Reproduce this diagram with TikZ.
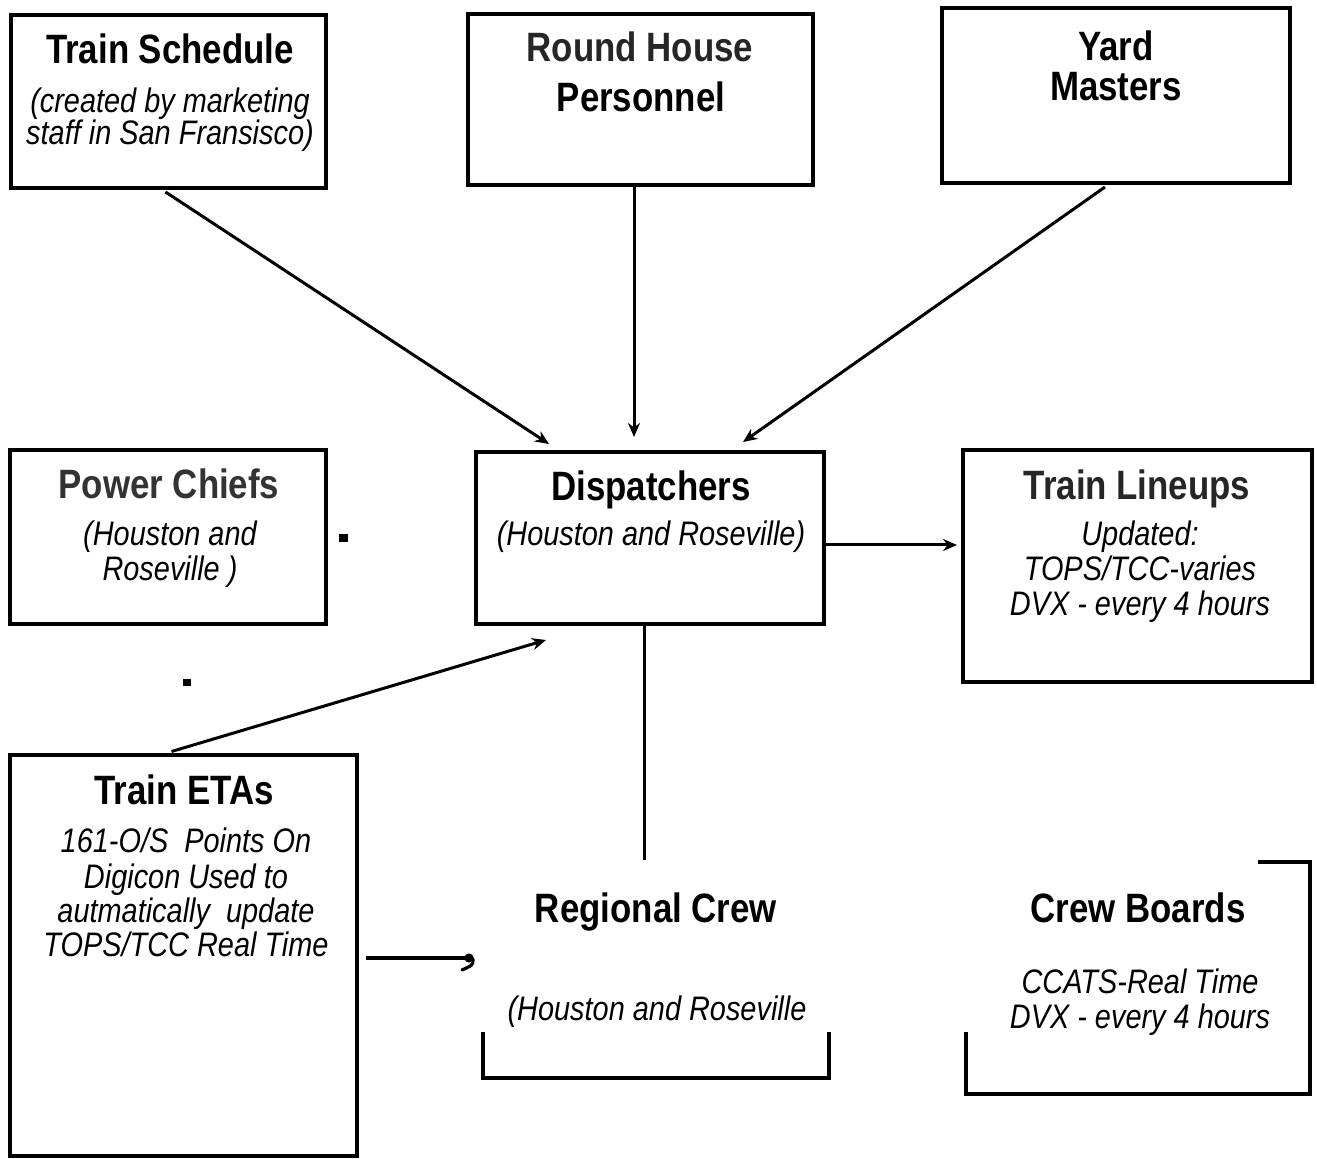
\documentclass[tikz,border=0pt]{standalone}
\usepackage{fontspec}
\setmainfont[FakeStretch=0.85]{Liberation Sans}
\usetikzlibrary{arrows.meta,calc}
\begin{document}
\begin{tikzpicture}[x=0.5pt, y=-0.5pt,
  box/.style={draw, line width=2pt, inner sep=0pt},
  ttl/.style={anchor=base, inner sep=0pt, font=\fontsize{20.5pt}{24pt}\selectfont\bfseries},
  sub/.style={anchor=base, inner sep=0pt, font=\fontsize{17pt}{20pt}\selectfont\itshape},
  arr/.style={line width=1.5pt, -{Stealth[length=7pt,width=6pt]}},
  conn/.style={line width=1.5pt},
  bracket/.style={line width=2pt}]
\useasboundingbox (0,0) rectangle (1317,1159);

% boxes
\node[box, minimum width=157.5pt, minimum height=86.5pt] (ts)  at (168.5,101.5) {};
\node[box, minimum width=172.5pt, minimum height=85.5pt] (rh)  at (640.5,99.5) {};
\node[box, minimum width=174pt,   minimum height=87.5pt] (ym)  at (1116,95.5) {};
\node[box, minimum width=158pt,   minimum height=87pt]   (pc)  at (168,537) {};
\node[box, minimum width=174pt,   minimum height=86pt]   (dp)  at (650,538) {};
\node[box, minimum width=174.5pt, minimum height=116pt]  (tl)  at (1137.5,566) {};
\node[box, minimum width=173.5pt, minimum height=200pt]  (eta) at (183.5,955.5) {};

% open frames of the two crew blocks
\coordinate (rcL) at (483,1032);
\coordinate (rcR) at (829,1032);
\draw[bracket] (rcL) -- (483,1078) -- (829,1078) -- (rcR);
\coordinate (cbT) at (1258,862);
\coordinate (cbL) at (966,1032);
\draw[bracket] (cbT) -- (1310,862) -- (1310,1094) -- (966,1094) -- (cbL);

% titles
\node[ttl] (tsT) at (170,64) {Train Schedule};
\node[sub] (tsS1) at (170,113) {(created by marketing};
\node[sub] (tsS2) at (170,145) {staff in San Fransisco)};

\node[ttl, text=black!85] (rhT1) at (640,62) {Round House};
\node[ttl] (rhT2) at (641,112) {Personnel};

\node[ttl] (ymT1) at (1116,61) {Yard};
\node[ttl] (ymT2) at (1116,101) {Masters};

\node[ttl, text=black!80] (pcT) at (169,499) {Power Chiefs};
\node[sub] (pcS1) at (170,546) {(Houston and};
\node[sub] (pcS2) at (170,581) {Roseville )};

\node[ttl] (dpT) at (651,501) {Dispatchers};
\node[sub] (dpS) at (651,546) {(Houston and Roseville)};

\node[ttl, text=black!85] (tlT) at (1137,500) {Train Lineups};
\node[sub] (tlS1) at (1140,546) {Updated:};
\node[sub] (tlS2) at (1140,581) {TOPS/TCC-varies};
\node[sub] (tlS3) at (1140,616) {DVX - every 4 hours};

\node[ttl] (etaT) at (184,805) {Train ETAs};
\node[sub] (etaS1) at (186,852) {161-O/S\ \ Points On};
\node[sub] (etaS2) at (186,888) {Digicon Used to};
\node[sub] (etaS3) at (186,922) {autmatically\ \ update};
\node[sub] (etaS4) at (186,956) {TOPS/TCC Real Time};

\node[ttl] (rcT) at (656,922) {Regional Crew};
\node[sub] (rcS) at (657,1020) {(Houston and Roseville};

\node[ttl] (cbTt) at (1138,922) {Crew Boards};
\node[sub] (cbS1) at (1140,993) {CCATS-Real Time};
\node[sub] (cbS2) at (1140,1028) {DVX - every 4 hours};

% small marks
\node[fill, minimum width=4.5pt, minimum height=4pt, inner sep=0pt] (m1) at (343,538) {};
\node[fill, minimum width=4pt, minimum height=3.5pt, inner sep=0pt] (m2) at (187,683) {};

% connectors
\coordinate (in1) at (549,444);
\coordinate (in2) at (634,437);
\coordinate (in3) at (743,442);
\coordinate (in4) at (957,545);
\coordinate (in5) at (546,640);
\coordinate (rcTop) at (644,860);
\coordinate (hookEnd) at (466,958);

\draw[arr] ($(ts.south)+(-3,2)$) -- (in1);
\draw[arr] (rh.south -| in2) -- (in2);
\draw[arr] ($(ym.south)+(-11,2)$) -- (in3);
\draw[arr] (dp.east |- in4) -- (in4);
\draw[arr] ($(eta.north)+(-12,-2)$) -- (in5);
\draw[conn] (dp.south -| rcTop) -- (rcTop);
\draw[line width=2pt] ($(eta.east |- hookEnd)+(7,0)$) -- (hookEnd);
% comma-shaped end of the ETA line
\fill ($(hookEnd)+(3,0)$) circle (2.3pt);
\draw[line width=1.6pt, line cap=round] ($(hookEnd)+(7,1)$) .. controls (473,965) .. (462,970);
\end{tikzpicture}
\end{document}
